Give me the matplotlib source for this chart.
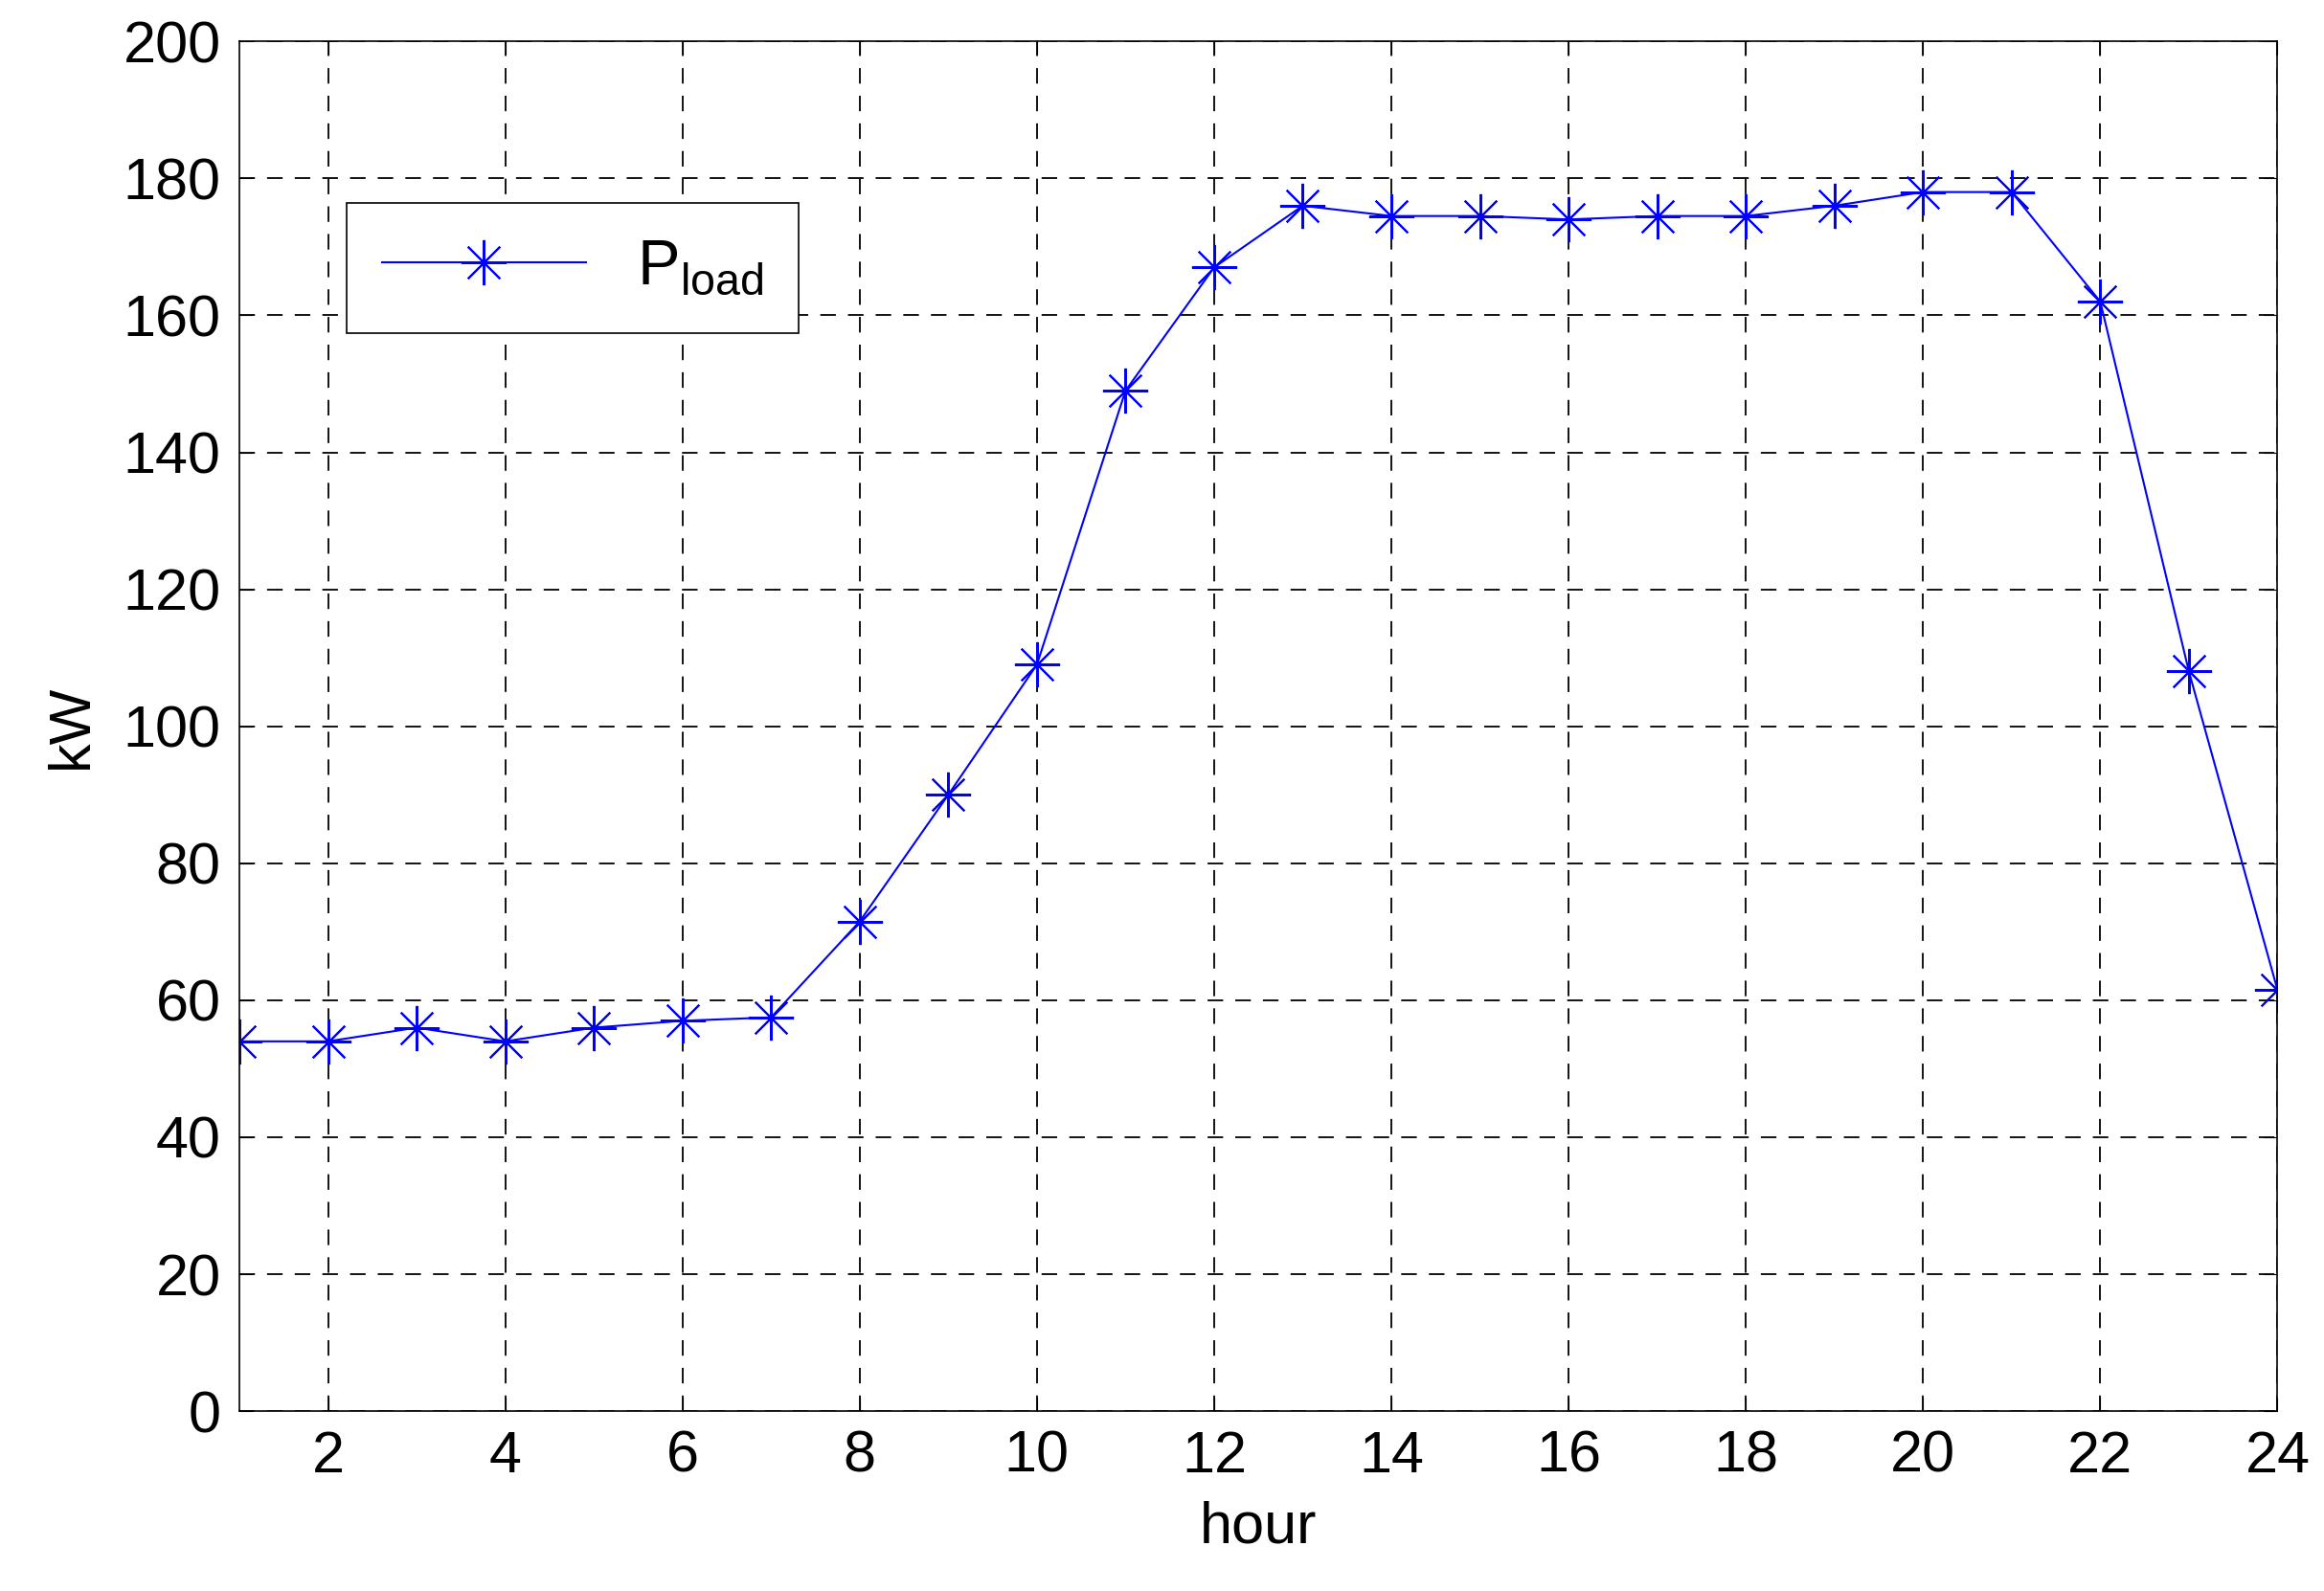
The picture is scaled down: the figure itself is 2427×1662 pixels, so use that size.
import matplotlib
matplotlib.use("Agg")
import matplotlib.pyplot as plt

hours = list(range(1, 25))
p_load = [54, 54, 56, 54, 56, 57, 57.5, 71.5, 90, 109, 149, 167,
          176, 174.5, 174.5, 174, 174.5, 174.5, 176, 178, 178, 162, 108, 61.5]

plt.rcParams['font.family'] = ['Arial', 'Liberation Sans', 'DejaVu Sans']

fig = plt.figure(figsize=(24.27, 16.62), dpi=100)
ax = fig.add_axes([0.103, 0.113, 0.877, 0.861])

ax.plot(hours, p_load, color='#0000ff', lw=1.5, marker=(8, 2, 0), ms=34, mew=1.5,
        label=r'P$_{\mathregular{load}}$')

ax.set_xlim(1, 24)
ax.set_ylim(0, 200)
ax.set_xticks(range(2, 25, 2))
ax.set_yticks(range(0, 201, 20))
ax.tick_params(labelsize=44, direction='in', length=10, top=True, right=True, pad=14)
ax.grid(True, color='black', ls=(0, (9, 7)), lw=1.3)
ax.set_xlabel('hour', fontsize=44, labelpad=12)
ax.set_ylabel('kW', fontsize=44, labelpad=18)
for s in ax.spines.values():
    s.set_linewidth(1.2)

leg = ax.legend(loc='upper left', bbox_to_anchor=(0.037, 0.905), fontsize=48,
                fancybox=False, edgecolor='black', framealpha=1,
                handlelength=3.2, borderpad=0.55)
leg.get_frame().set_linewidth(1.2)

fig.savefig('out.png', dpi=100)
